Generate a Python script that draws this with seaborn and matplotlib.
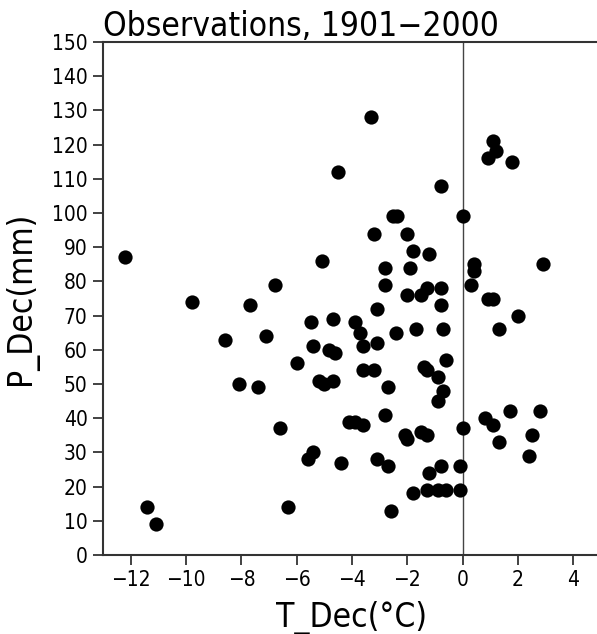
import matplotlib
matplotlib.use("Agg")
import matplotlib.pyplot as plt
import seaborn as sns
import pandas as pd

t_dec = [-12.2, -11.4, -11.1, -9.8, -8.6, -8.1, -7.7, -7.4, -7.1, -6.8,
         -6.6, -6.3, -6.0, -5.6, -5.5, -5.4, -5.4, -5.2, -5.1, -5.0,
         -4.83, -4.7, -4.63, -4.7, -4.5, -4.4, -4.1, -3.9, -3.9, -3.7,
         -3.6, -3.6, -3.6, -3.3, -3.2, -3.2, -3.1, -3.1, -3.1, -2.8,
         -2.8, -2.8, -2.7, -2.7, -2.6, -2.52, -2.37, -2.4, -2.1, -2.0,
         -2.0, -1.9, -2.0, -1.8, -1.8, -1.7, -1.5, -1.5, -1.4, -1.29,
         -1.29, -1.29, -1.3, -1.2, -1.2, -0.9, -0.9, -0.9, -0.8, -0.8,
         -0.8, -0.8, -0.7, -0.7, -0.6, -0.59, -0.1, -0.1, 0.0, 0.0,
         0.4, 0.4, 0.3, 0.9, 1.1, 0.9, 1.1, 1.19, 1.8, 2.9,
         2.0, 1.3, 1.7, 2.8, 0.8, 1.1, 2.5, 1.3, 2.4]
p_dec = [87, 14, 9, 74, 63, 50, 73, 49, 64, 79,
         37, 14, 56, 28, 68, 61, 30, 51, 86, 50,
         60, 69, 59, 51, 112, 27, 39, 39, 68, 65,
         61, 38, 54, 128, 94, 54, 72, 62, 28, 84,
         79, 41, 49, 26, 13, 99, 99, 65, 35, 34,
         94, 84, 76, 89, 18, 66, 76, 36, 55, 78,
         35, 54, 19, 88, 24, 52, 45, 19, 108, 78,
         73, 26, 66, 48, 57, 19, 19, 26, 37, 99,
         85, 83, 79, 75, 75, 116, 121, 118, 115, 85,
         70, 66, 42, 42, 40, 38, 35, 33, 29]

x_ticks = [-12, -10, -8, -6, -4, -2, 0, 2, 4]
y_ticks = list(range(0, 151, 10))
title = "Observations, 1901\u22122000"
x_label = "T_Dec(\u00b0C)"
y_label = "P_Dec(mm)"

df = pd.DataFrame({"T": t_dec, "P": p_dec})

sns.set_style("white")
plt.rcParams['font.family'] = ['DejaVu Sans']
plt.rcParams['font.stretch'] = 'condensed'
plt.rcParams['text.color'] = 'black'
plt.rcParams['axes.labelcolor'] = 'black'
plt.rcParams['xtick.color'] = 'black'
plt.rcParams['ytick.color'] = 'black'

fig = plt.figure(figsize=(5.97, 6.34), dpi=100)
ax = fig.add_axes([103/597, 79/634, (601-103)/597, (555-42)/634])

ax.axvline(0, color="#444444", lw=1.0, zorder=1)
sns.scatterplot(data=df, x="T", y="P", ax=ax, color="black", s=105,
                edgecolor="black", linewidth=0, zorder=3, legend=False)

ax.set_xlim(-13, 5)
ax.set_ylim(0, 150)
ax.set_xticks(x_ticks)
ax.set_xticklabels([str(v).replace("-", "\u2212") for v in x_ticks])
ax.set_yticks(y_ticks)
ax.tick_params(axis="both", direction="out", length=7, width=1.3,
               color="#333333", labelsize=15, pad=4, left=True, bottom=True)
for s in ["left", "bottom", "top", "right"]:
    ax.spines[s].set_color("#333333")
    ax.spines[s].set_linewidth(1.5)

ax.set_xlabel(x_label, fontsize=24, labelpad=8)
ax.set_ylabel(y_label, fontsize=24, labelpad=10)
ax.set_title(title, fontsize=24, loc="left", pad=4, x=0.0)

fig.savefig("out.png", dpi=100)
